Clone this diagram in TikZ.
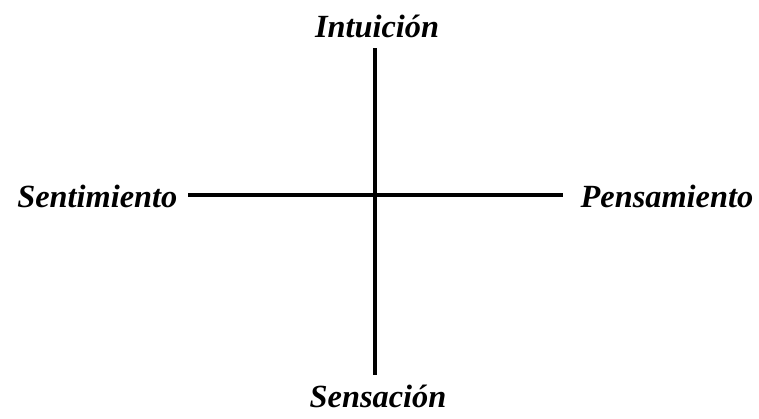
\documentclass[tikz,border=0pt]{standalone}
\usepackage{fontspec}
\setmainfont{Liberation Serif}
\usepackage{tikz}
\usetikzlibrary{positioning}

\tikzset{
  funcion/.style={font=\bfseries\itshape\fontsize{9.2}{11}\selectfont, inner sep=0pt},
  eje/.style={line width=0.9pt}
}

\begin{document}
\begin{tikzpicture}[x=1cm,y=1cm]
\useasboundingbox (0,0) rectangle (7.59,4.18);

\node[funcion] (intu) at (3.77,3.92) {Intuición};
\node[funcion] (sens) at (3.78,0.22) {Sensación};
\node[funcion, anchor=east] (senti) at (1.78,2.22) {Sentimiento};
\node[funcion, anchor=west] (pens) at (5.80,2.22) {Pensamiento};

\coordinate (arriba) at (3.75,3.70);
\coordinate (abajo) at (3.75,0.43);
\coordinate (izq) at (1.88,2.23);
\coordinate (der) at (5.63,2.23);

\draw[eje] (arriba) -- (abajo);
\draw[eje] (izq) -- (der);
\end{tikzpicture}
\end{document}
